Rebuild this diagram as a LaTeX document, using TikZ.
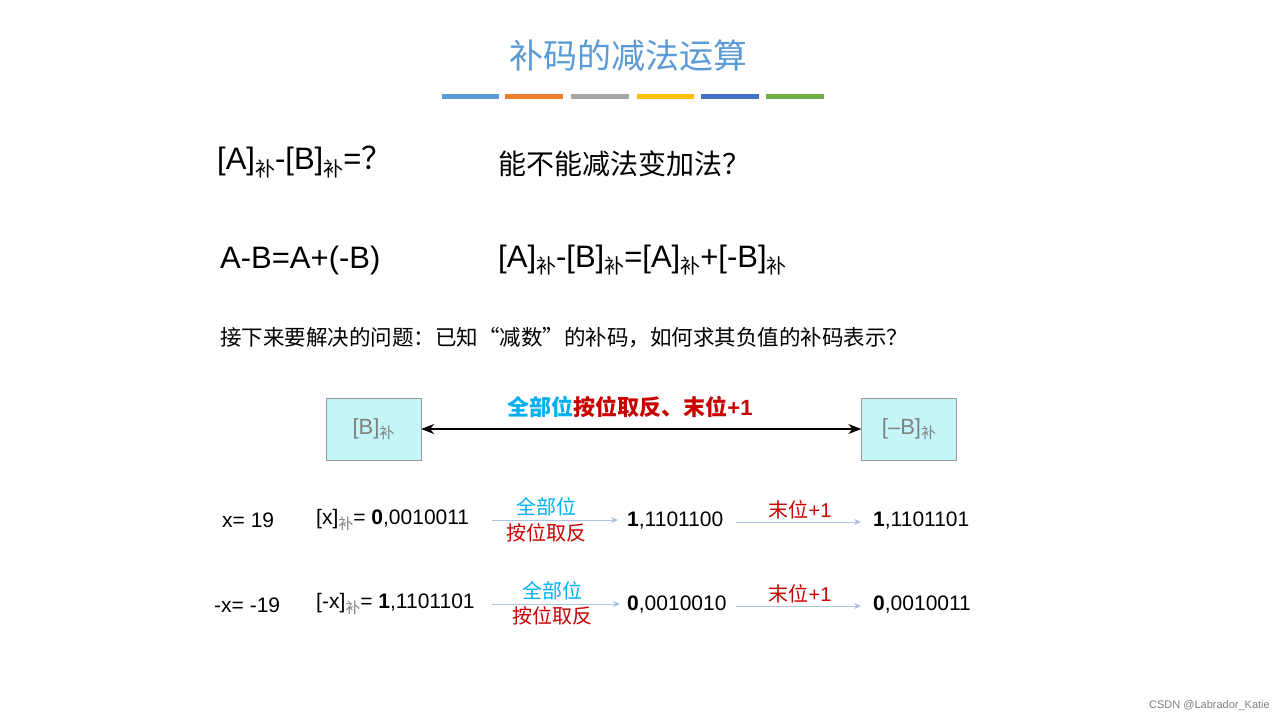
\documentclass[tikz,border=0pt]{standalone}
\usepackage{fontspec}
\setmainfont{Liberation Sans}
\newfontfamily\cjk{Noto Sans CJK SC}
\usetikzlibrary{arrows.meta}
\definecolor{ttl}{RGB}{91,155,213}
\definecolor{b1}{RGB}{91,155,213}
\definecolor{b2}{RGB}{237,125,49}
\definecolor{b3}{RGB}{165,165,165}
\definecolor{b4}{RGB}{255,192,0}
\definecolor{b5}{RGB}{68,114,196}
\definecolor{b6}{RGB}{112,173,71}
\definecolor{cy}{RGB}{0,176,240}
\definecolor{rd}{RGB}{200,0,0}
\definecolor{boxf}{RGB}{196,246,248}
\definecolor{arr}{RGB}{120,160,210}
\newcommand{\bu}{\raisebox{-0.4ex}{\fontsize{15}{15}\selectfont\cjk\color{gray}补}}
\newcommand{\bub}{\raisebox{-0.4ex}{\fontsize{20}{20}\selectfont\cjk 补}}
\begin{document}
\begin{tikzpicture}[x=1pt,y=-1pt,
  txt/.style={anchor=west,inner sep=0pt,font=\fontsize{21}{22}\selectfont},
  big/.style={anchor=west,inner sep=0pt,font=\fontsize{31}{32}\selectfont},
  lab/.style={inner sep=0pt,font=\cjk\fontsize{20}{21}\selectfont},
  bx/.style={draw=gray!80,fill=boxf,minimum width=95pt,minimum height=62pt,inner sep=0pt,text=gray,font=\fontsize{22}{23}\selectfont},
  thin/.style={draw=arr!60,line width=0.8pt,-{Stealth[length=7pt,width=6pt,fill=arr]}},
  bar/.style={line width=5pt}]
\useasboundingbox[fill=white] (0,0) rectangle (1280,718);
\node[font=\cjk\fontsize{34}{35}\selectfont,text=ttl] (title) at (628,56) {补码的减法运算};
\draw[bar,b1] (442,96) -- (499,96);
\draw[bar,b2] (505,96) -- (563,96);
\draw[bar,b3] (571,96) -- (629,96);
\draw[bar,b4] (637,96) -- (694,96);
\draw[bar,b5] (701,96) -- (759,96);
\draw[bar,b6] (766,96) -- (824,96);
\node[big] (q1) at (217,162) {[A]\bub-[B]\bub={\cjk ？}};
\node[anchor=west,inner sep=0pt,font=\cjk\fontsize{28}{29}\selectfont] (q2) at (498,164) {能不能减法变加法？};
\node[big] (e1) at (220,260) {A-B=A+(-B)};
\node[big] (e2) at (498,260) {[A]\bub-[B]\bub=[A]\bub+[-B]\bub};
\node[anchor=west,inner sep=0pt,font=\cjk\fontsize{21.5}{22}\selectfont] (q3) at (220,338) {接下来要解决的问题：已知“减数”的补码，如何求其负值的补码表示？};
\node[bx] (B) at (373.5,429) {[B]\bu};
\node[bx] (nB) at (909,429) {[--B]\bu};
\draw[{Stealth[length=13pt,width=10pt]}-{Stealth[length=13pt,width=10pt]},line width=1.1pt] (B) -- (nB);
\node[font=\cjk\bfseries\fontsize{22}{23}\selectfont,inner sep=0pt] (top) at (630,407) {\textcolor{cy}{全部位}\textcolor{rd}{按位取反、末位}\textcolor{rd}{\normalfont\bfseries +1}};
% row 1
\node[txt] (x1) at (222,520) {x= 19};
\node[txt] (c1) at (316,520) {[x]\bu= \textbf{0},0010011};
\coordinate (a1s) at (492,520); \coordinate (a1e) at (618,520);
\draw[thin] (a1s) -- (a1e);
\node[lab,text=cy] (l1a) at (546,507) {全部位};
\node[lab,text=rd] (l1b) at (546,533) {按位取反};
\node[txt] (d1) at (627,521) {\textbf{1},1101100};
\coordinate (b1s) at (736,522); \coordinate (b1e) at (861,522);
\draw[thin] (b1s) -- (b1e);
\node[lab,text=rd] (m1) at (800,510) {末位\fontsize{20}{21}\selectfont\rmfamily +1};
\node[txt] (f1) at (873,521) {\textbf{1},1101101};
% row 2
\node[txt] (x2) at (214,605) {-x= -19};
\node[txt] (c2) at (316,604) {[-x]\bu= \textbf{1},1101101};
\coordinate (a2s) at (492,604); \coordinate (a2e) at (620,604);
\draw[thin] (a2s) -- (a2e);
\node[lab,text=cy] (l2a) at (552,591) {全部位};
\node[lab,text=rd] (l2b) at (552,616) {按位取反};
\node[txt] (d2) at (627,605) {\textbf{0},0010010};
\coordinate (b2s) at (736,606); \coordinate (b2e) at (861,606);
\draw[thin] (b2s) -- (b2e);
\node[lab,text=rd] (m2) at (800,594) {末位\fontsize{20}{21}\selectfont\rmfamily +1};
\node[txt] (f2) at (873,605) {\textbf{0},0010011};
\node[anchor=east,inner sep=0pt,text=gray,font=\fontsize{11}{12}\selectfont] (wm) at (1270,706) {CSDN @Labrador\_Katie};
\end{tikzpicture}
\end{document}
